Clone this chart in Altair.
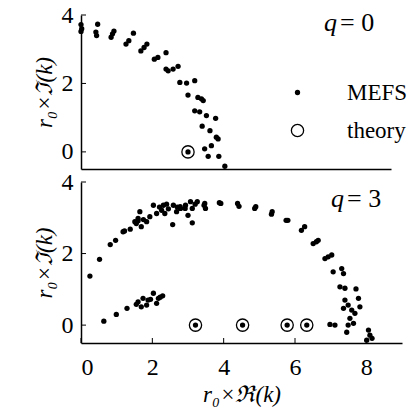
import altair as alt
import pandas as pd

# ---- data ----
top_mefs_x = [0.0, 0.0, 0.02, 0.47, 0.42, 0.44, 0.93, 0.85, 0.89, 1.48, 1.35, 1.27,
              1.86, 1.78, 1.69, 2.40, 2.17, 2.07, 2.40, 2.74, 2.60, 2.46, 3.21, 2.98, 2.79,
              3.02, 3.30, 3.40, 3.45, 3.21, 3.35, 3.54, 3.80, 3.42, 3.64, 3.82, 3.87,
              3.02, 3.49, 3.68, 3.59, 3.89, 4.06]
top_mefs_y = [3.72, 3.52, 3.60, 3.73, 3.50, 3.40, 3.53, 3.35, 3.45, 3.47, 3.25, 3.15,
              3.15, 3.05, 2.95, 2.90, 2.76, 2.71, 2.42, 2.50, 2.42, 2.37, 2.08, 2.01, 2.03,
              1.66, 1.59, 1.55, 1.50, 1.20, 1.17, 1.06, 0.98, 0.75, 0.62, 0.43, 0.38,
              0.00, 0.09, 0.18, -0.13, -0.13, -0.42]
top_theory_x = [3.02]

bot_mefs_x = [0.25, 0.52, 0.82, 0.97, 1.18, 1.22, 1.38, 1.51, 1.60, 1.69, 1.55, 1.65, 1.84, 1.93, 1.60, 1.75,
              2.03, 2.12, 2.31, 2.35, 2.26, 2.59, 2.57, 2.68, 2.78, 2.92, 2.20, 2.45, 2.40, 2.70,
              2.79, 2.93, 3.07, 3.12, 3.26, 3.00, 3.12, 3.20, 3.45, 3.49, 3.47, 3.92, 3.88,
              4.39, 4.43, 4.90, 4.87, 5.36, 5.34, 5.75, 5.80, 6.18, 6.27, 6.51, 6.65, 6.60,
              6.84, 7.03, 6.93, 7.07, 7.31, 7.36, 7.26, 7.40, 7.71, 7.40, 7.49, 7.36, 7.59,
              7.78, 7.82, 7.68, 7.54, 7.64, 7.49, 7.45, 6.98, 7.12, 8.06, 8.10, 8.01, 8.16,
              0.64, 0.99, 1.29, 1.55, 1.60, 1.69, 1.74, 1.84, 1.88, 2.03, 2.12, 2.17, 2.29, 1.95, 2.22,
              3.21, 4.53, 5.78, 6.33]
bot_mefs_y = [1.37, 1.84, 2.25, 2.37, 2.61, 2.63, 2.68, 2.89, 2.98, 2.75, 2.84, 3.17, 2.89, 3.03, 2.92, 2.95,
              3.35, 3.12, 3.35, 3.12, 3.21, 3.35, 2.81, 3.17, 3.31, 3.26, 3.30, 3.25, 3.38, 3.30,
              3.26, 3.35, 3.45, 3.26, 3.45, 3.07, 2.86, 3.38, 3.35, 3.26, 3.40, 3.40, 3.42,
              3.40, 3.32, 3.31, 3.26, 3.17, 3.10, 2.93, 2.93, 2.65, 2.75, 2.28, 2.37, 2.33,
              1.86, 1.96, 1.91, 1.49, 1.58, 1.44, 1.07, 1.03, 1.01, 0.70, 0.56, 0.47, 0.42,
              0.75, 0.51, 0.33, 0.19, 0.05, 0.00, -0.20, 0.02, 0.00, -0.14, -0.28, -0.42, -0.37,
              0.11, 0.30, 0.47, 0.58, 0.65, 0.51, 0.75, 0.56, 0.70, 0.89, 0.61, 0.75, 0.82, 0.72, 0.78,
              0.0, 0.0, 0.0, 0.0]
bot_theory_x = [3.21, 4.53, 5.78, 6.33]

y_ticks = [0, 2, 4]
x_ticks = [0, 2, 4, 6, 8]
kinds = ["MEFS", "theory"]

FONT = "Liberation Serif"


def make_df(mx, my, tx):
    rows = [{"x": a, "y": b, "type": "MEFS"} for a, b in zip(mx, my)]
    rows += [{"x": a, "y": 0.0, "type": "theory"} for a in tx]
    return pd.DataFrame(rows)


def panel(df, xmax, w, h, bottom, label):
    xscale = alt.Scale(domain=[0, xmax], nice=False, zero=False)
    yscale = alt.Scale(domain=[-0.5, 4], nice=False, zero=False)
    if bottom:
        xaxis = alt.Axis(values=x_ticks, title="r₀×ℜ(k)", labelPadding=12, titlePadding=4)
    else:
        xaxis = alt.Axis(labels=False, ticks=False, title=None)
    yaxis = alt.Axis(values=y_ticks, title="r₀×ℑ(k)", labelPadding=8, titlePadding=5)
    if bottom:
        leg = None
    else:
        leg = alt.Legend(title=None, orient="none", legendX=205, legendY=66,
                         labelFontSize=23, labelFont=FONT, labelColor="black",
                         labelOffset=38, rowPadding=14, padding=0)
    pts = alt.Chart(df).mark_point(filled=True, opacity=1, stroke="black", shape="circle").encode(
        x=alt.X("x:Q", scale=xscale, axis=xaxis),
        y=alt.Y("y:Q", scale=yscale, axis=yaxis),
        fill=alt.Fill("type:N", scale=alt.Scale(domain=kinds, range=["black", "transparent"]), legend=leg),
        size=alt.Size("type:N", scale=alt.Scale(domain=kinds, range=[28, 150]), legend=leg),
        strokeWidth=alt.StrokeWidth("type:N", scale=alt.Scale(domain=kinds, range=[0, 1.3]), legend=leg),
    )
    yt = alt.Chart(pd.DataFrame({"y": y_ticks})).mark_rule(color="black", strokeWidth=1).encode(
        y=alt.Y("y:Q", scale=yscale, axis=yaxis), x=alt.value(0), x2=alt.value(5))
    layers = [pts, yt]
    if bottom:
        xt = alt.Chart(pd.DataFrame({"x": x_ticks})).mark_rule(color="black", strokeWidth=1).encode(
            x=alt.X("x:Q", scale=xscale, axis=xaxis), y=alt.value(h), y2=alt.value(h - 5))
        layers.append(xt)
    qx, qy = (243, 16) if not bottom else (250, 25)
    qt = alt.Chart(pd.DataFrame({"t": ["q"]})).mark_text(
        font=FONT, fontSize=26, fontStyle="italic", align="left", baseline="alphabetic", color="black"
    ).encode(text="t:N", x=alt.value(qx), y=alt.value(qy))
    qv = alt.Chart(pd.DataFrame({"t": [label]})).mark_text(
        font=FONT, fontSize=26, align="left", baseline="alphabetic", color="black"
    ).encode(text="t:N", x=alt.value(qx + 16), y=alt.value(qy))
    layers += [qt, qv]
    return alt.layer(*layers).properties(width=w, height=h).resolve_scale(
        fill="independent", size="independent", strokeWidth="independent")


top = panel(make_df(top_mefs_x, top_mefs_y, top_theory_x), 8.75, 310, 154, False, "= 0")
bot = panel(make_df(bot_mefs_x, bot_mefs_y, bot_theory_x), 9.0, 321, 161, True, "= 3")

chart = alt.vconcat(top, bot, spacing=13, bounds="flush").resolve_scale(
    x="independent", y="independent", fill="independent", size="independent", strokeWidth="independent"
).resolve_legend(fill="independent", size="independent", strokeWidth="independent").properties(
    padding={"left": 33, "top": 3, "right": 5, "bottom": 5},
    background="white",
).configure_view(stroke=None).configure_axis(
    grid=False, domainColor="black", domainWidth=1.5, tickSize=0,
    labelFont=FONT, labelFontSize=24, labelColor="black",
    titleFont=FONT, titleFontSize=23, titleFontStyle="italic", titleFontWeight="normal", titleColor="black",
)

chart.save("out.html", embed_options={"renderer": "svg", "actions": False})
